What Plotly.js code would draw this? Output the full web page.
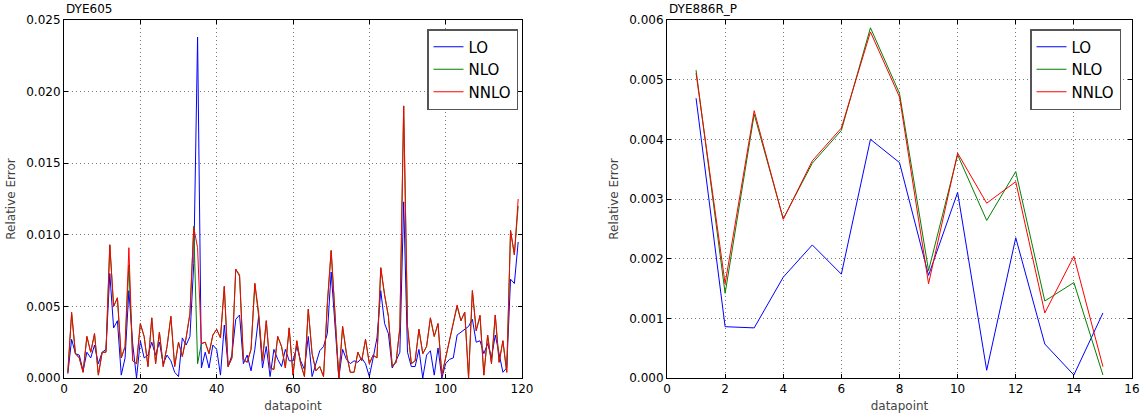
<!DOCTYPE html>
<html>
<head>
<meta charset="utf-8">
<script src="https://cdn.plot.ly/plotly-3.0.1.min.js"></script>
<style>html,body{margin:0;padding:0;background:#fff;}#chart{width:1145px;height:416px;}</style>
</head>
<body>
<div id="chart"></div>
<script>
// ---------- DYE605 (left panel) ----------
const dye605LO = [0.0003,0.0027,0.0017,0.0016,0.0005,0.0018,0.0014,0.0023,0.0010,0.0018,
0.0020,0.0073,0.0035,0.0040,0.0002,0.0014,0.0061,0.0024,0.0000,0.0026,
0.0014,0.0016,0.0025,0.0016,0.0025,0.0010,0.0016,0.0012,0.0004,0.0001,
0.0028,0.0023,0.0029,0.0080,0.0238,0.0007,0.0018,0.0007,0.0023,0.0020,
0.0002,0.0037,0.0008,0.0016,0.0041,0.0044,0.0010,0.0016,0.0005,0.0020,
0.0043,0.0007,0.0022,0.0001,0.0020,0.0013,0.0008,0.0020,0.0012,0.0012,
0.0022,0.0012,0.0006,0.0029,0.0001,0.0011,0.0019,0.0022,0.0031,0.0074,
0.0035,0.0000,0.0020,0.0013,0.0010,0.0012,0.0011,0.0014,0.0010,0.0001,
0.0014,0.0028,0.0061,0.0038,0.0031,0.0007,0.0012,0.0018,0.0123,0.0018,
0.0008,0.0008,0.0020,0.0000,0.0016,0.0019,0.0002,0.0021,0.0000,0.0010,
0.0013,0.0014,0.0030,0.0032,0.0034,0.0036,0.0041,0.0025,0.0026,0.0017,
0.0024,0.0014,0.0030,0.0016,0.0004,0.0007,0.0069,0.0066,0.0095];
const dye605NLO = [0.0004,0.0045,0.0017,0.0014,0.0004,0.0029,0.0018,0.0031,0.0002,0.0018,
0.0018,0.0093,0.0050,0.0056,0.0014,0.0022,0.0079,0.0012,0.0010,0.0038,
0.0029,0.0008,0.0042,0.0010,0.0032,0.0008,0.0022,0.0043,0.0008,0.0025,
0.0015,0.0028,0.0045,0.0106,0.0010,0.0024,0.0025,0.0017,0.0030,0.0034,
0.0028,0.0064,0.0008,0.0014,0.0076,0.0071,0.0013,0.0011,0.0020,0.0066,
0.0043,0.0012,0.0040,0.0007,0.0006,0.0029,0.0022,0.0007,0.0035,0.0002,
0.0026,0.0010,0.0001,0.0048,0.0017,0.0005,0.0008,0.0001,0.0052,0.0089,
0.0045,0.0000,0.0036,0.0017,0.0004,0.0004,0.0018,0.0012,0.0027,0.0010,
0.0016,0.0014,0.0077,0.0058,0.0043,0.0008,0.0011,0.0035,0.0190,0.0036,
0.0010,0.0012,0.0034,0.0017,0.0022,0.0042,0.0029,0.0038,0.0002,0.0014,
0.0026,0.0037,0.0050,0.0040,0.0046,0.0000,0.0061,0.0033,0.0043,0.0002,
0.0030,0.0010,0.0044,0.0011,0.0026,0.0004,0.0103,0.0086,0.0120];
const dye605NNLO = [0.0004,0.0046,0.0017,0.0014,0.0004,0.0029,0.0018,0.0031,0.0002,0.0018,
0.0018,0.0093,0.0050,0.0056,0.0014,0.0022,0.0091,0.0012,0.0010,0.0038,
0.0029,0.0008,0.0042,0.0010,0.0032,0.0008,0.0022,0.0043,0.0008,0.0025,
0.0015,0.0028,0.0045,0.0105,0.0091,0.0024,0.0025,0.0017,0.0030,0.0034,
0.0028,0.0064,0.0008,0.0014,0.0076,0.0072,0.0013,0.0011,0.0020,0.0066,
0.0046,0.0012,0.0040,0.0007,0.0006,0.0029,0.0022,0.0007,0.0035,0.0002,
0.0026,0.0010,0.0001,0.0048,0.0017,0.0005,0.0008,0.0001,0.0052,0.0089,
0.0045,0.0000,0.0036,0.0017,0.0004,0.0004,0.0018,0.0012,0.0027,0.0010,
0.0016,0.0014,0.0077,0.0058,0.0043,0.0008,0.0011,0.0035,0.0190,0.0036,
0.0010,0.0012,0.0034,0.0017,0.0022,0.0042,0.0029,0.0038,0.0002,0.0014,
0.0026,0.0038,0.0051,0.0040,0.0046,0.0000,0.0061,0.0033,0.0044,0.0002,
0.0030,0.0010,0.0044,0.0011,0.0026,0.0004,0.0103,0.0086,0.0125];
const dye605X = dye605LO.map((_, i) => i + 1);

// ---------- DYE886R_P (right panel) ----------
const dye886X    = [1,2,3,4,5,6,7,8,9,10,11,12,13,14,15];
const dye886LO   = [0.00469,0.00086,0.00084,0.00169,0.00223,0.00174,0.00400,0.00361,0.00172,0.00311,0.00013,0.00235,0.00057,0.00005,0.00109];
const dye886NLO  = [0.00516,0.00142,0.00442,0.00267,0.00360,0.00415,0.00587,0.00477,0.00180,0.00374,0.00264,0.00346,0.00129,0.00160,0.00005];
const dye886NNLO = [0.00511,0.00158,0.00448,0.00266,0.00364,0.00419,0.00580,0.00471,0.00158,0.00377,0.00293,0.00329,0.00109,0.00204,0.00019];

const seriesNames = ['LO','NLO','NNLO'];
const seriesColors = ['#0000ff','#008000','#ff0000'];

const traces = [];
[dye605LO, dye605NLO, dye605NNLO].forEach((ys, k) => traces.push({
  x: dye605X, y: ys, type: 'scatter', mode: 'lines', name: seriesNames[k],
  line: {color: seriesColors[k], width: 1}, xaxis: 'x', yaxis: 'y', legend: 'legend'
}));
[dye886LO, dye886NLO, dye886NNLO].forEach((ys, k) => traces.push({
  x: dye886X, y: ys, type: 'scatter', mode: 'lines', name: seriesNames[k],
  line: {color: seriesColors[k], width: 1}, xaxis: 'x2', yaxis: 'y2', legend: 'legend2'
}));

const W = 1145, H = 416;
const FAM = 'DejaVu Sans, sans-serif';
const font = {family: FAM, size: 12, color: '#000'};
function ax(extra) {
  return Object.assign({
    showline: true, mirror: 'allticks', linecolor: '#000', linewidth: 1,
    ticks: 'inside', ticklen: 4, tickcolor: '#000', tickwidth: 1,
    showgrid: true, gridcolor: '#7a7a7a', griddash: '1px,3px', gridwidth: 1,
    zeroline: false, tickfont: font, automargin: false, fixedrange: true
  }, extra);
}
const legendCommon = {
  bgcolor: '#fff', bordercolor: '#555', borderwidth: 1.5,
  font: {family: FAM, size: 15, color: '#000'},
  xanchor: 'right', yanchor: 'top', tracegroupgap: 0, itemwidth: 30
};

const layout = {
  width: W, height: H,
  margin: {l: 0, r: 0, t: 0, b: 0},
  paper_bgcolor: '#fff', plot_bgcolor: '#fff',
  showlegend: true,
  xaxis: ax({domain: [64/W, 522/W], range: [0, 120], dtick: 20, tick0: 0,
    title: {text: 'datapoint', font: {family: FAM, size: 12}, standoff: 6}}),
  yaxis: ax({domain: [1-378/H, 1-20/H], range: [0, 0.025], dtick: 0.005, tickformat: '.3f',
    title: {text: 'Relative Error', font: {family: FAM, size: 12}, standoff: 8}}),
  xaxis2: ax({domain: [667/W, 1132/W], range: [0, 16], dtick: 2, tick0: 0, anchor: 'y2',
    title: {text: 'datapoint', font: {family: FAM, size: 12}, standoff: 6}}),
  yaxis2: ax({domain: [1-378/H, 1-20/H], range: [0, 0.006], dtick: 0.001, tickformat: '.3f', anchor: 'x2',
    title: {text: 'Relative Error', font: {family: FAM, size: 12}, standoff: 8}}),
  legend: Object.assign({x: 518/W, y: 1-29/H}, legendCommon),
  legend2: Object.assign({x: 1121/W, y: 1-29/H}, legendCommon),
  annotations: [
    {text: 'DYE605', xref: 'paper', yref: 'paper', x: 64/W, y: 1-18/H, xanchor: 'left', yanchor: 'bottom',
     showarrow: false, font: {family: FAM, size: 12, color: '#000'}},
    {text: 'DYE886R_P', xref: 'paper', yref: 'paper', x: 667/W, y: 1-18/H, xanchor: 'left', yanchor: 'bottom',
     showarrow: false, font: {family: FAM, size: 12, color: '#000'}}
  ]
};

Plotly.newPlot('chart', traces, layout, {staticPlot: true, displayModeBar: false});
</script>
</body>
</html>
